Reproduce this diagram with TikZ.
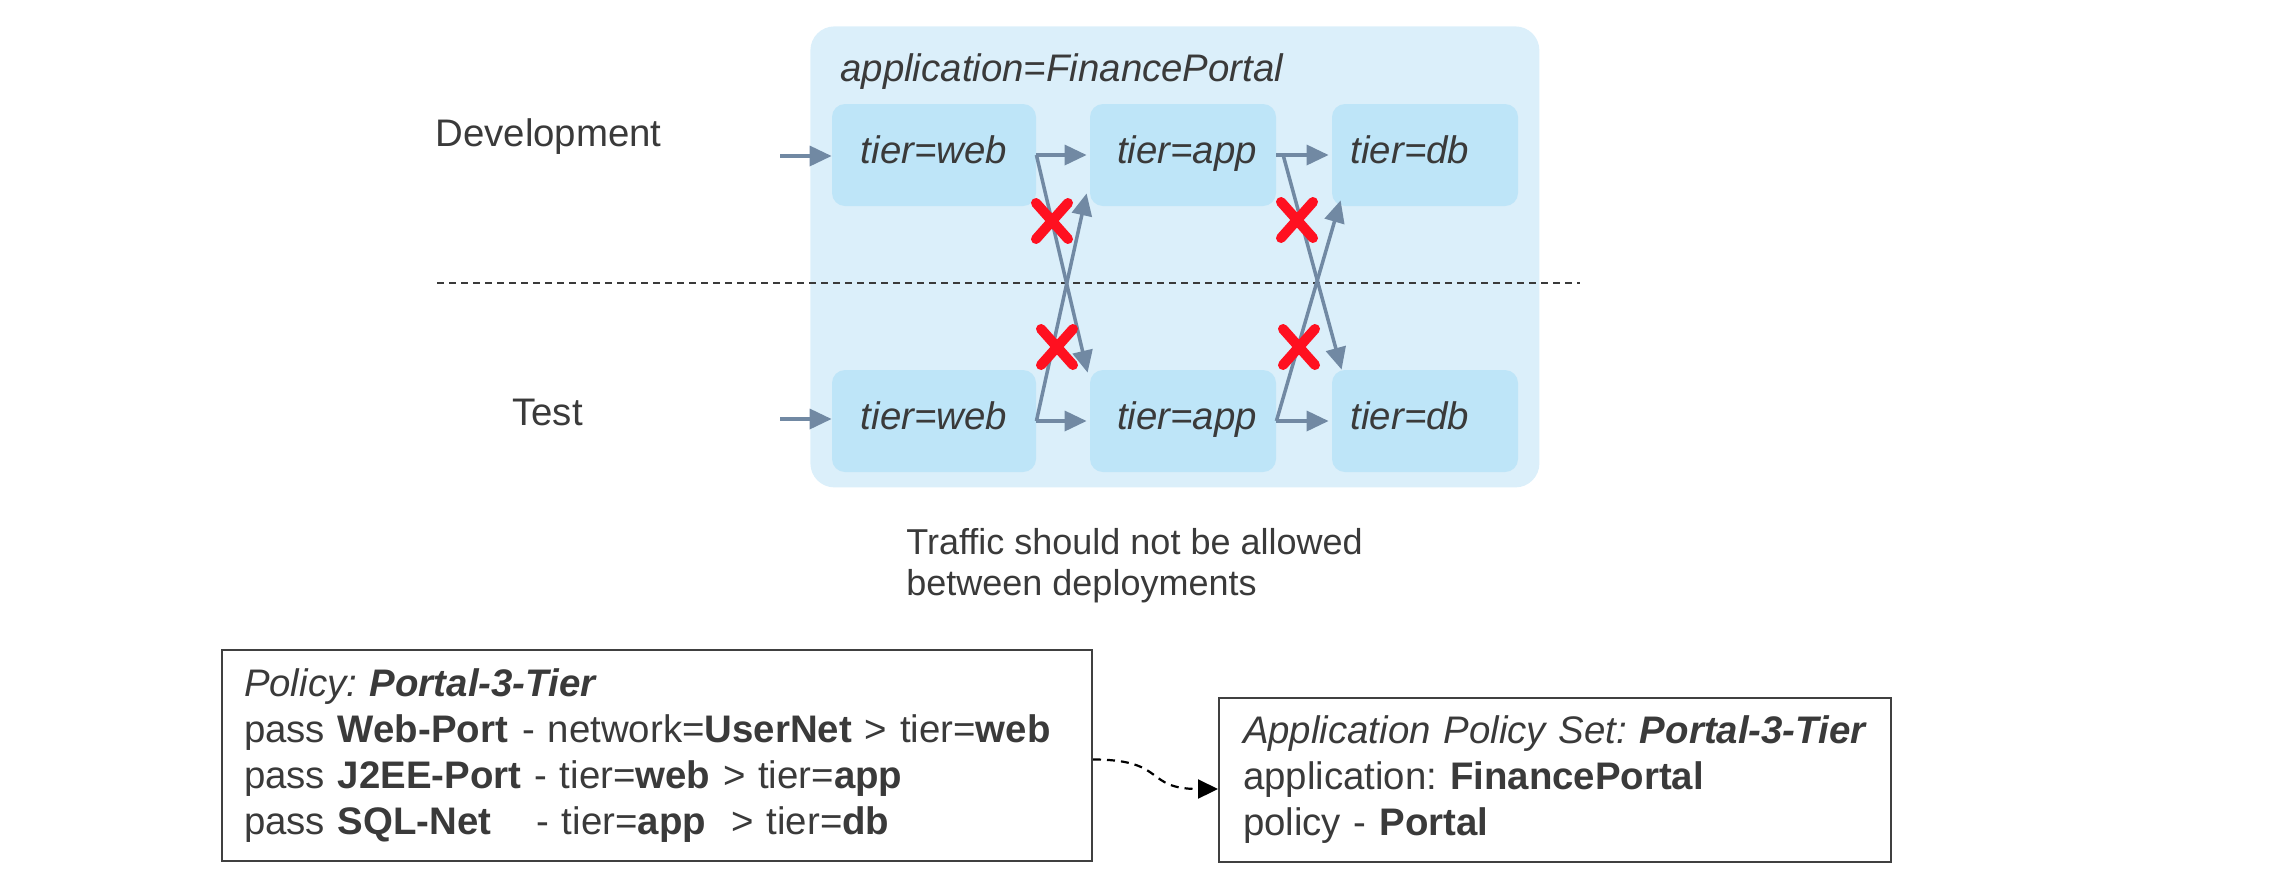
\documentclass[tikz,border=0pt]{standalone}
\usepackage{fontspec}
\setmainfont{Liberation Sans}
\usetikzlibrary{arrows.meta,calc}
\definecolor{txt}{RGB}{58,58,58}
\definecolor{outerbg}{RGB}{219,239,250}
\definecolor{innerbg}{RGB}{190,229,248}
\definecolor{arr}{RGB}{113,137,163}
\definecolor{xred}{RGB}{255,16,32}
\definecolor{frame}{RGB}{64,64,64}
\frenchspacing
\begin{document}
\begin{tikzpicture}[x=0.5pt,y=-0.5pt,
  every node/.style={text=txt, font=\fontsize{19.2}{23}\selectfont},
  container/.style={fill=outerbg, rounded corners=12pt, inner sep=0pt, anchor=north west,
    minimum width=364.5pt, minimum height=230.5pt},
  tbox/.style={fill=innerbg, rounded corners=6.5pt, minimum width=102pt, minimum height=51pt,
    inner sep=0pt, text height=13pt, text depth=5pt, font=\fontsize{19.2}{23}\selectfont\itshape},
  narrow/.style={minimum width=93pt},
  flow/.style={draw=arr, line width=1.75pt, -{Triangle[length=11pt,width=10pt]}},
  xstroke/.style={draw=xred, line width=5pt, line cap=round},
  divider/.style={draw=txt, line width=1pt, dash pattern=on 3.5pt off 2.5pt},
  infobox/.style={draw=frame, line width=1pt, align=left, anchor=north west,
    inner ysep=0pt},
  link/.style={draw=black, line width=1.1pt, dash pattern=on 4pt off 3pt,
    -{Triangle[length=10pt,width=9.5pt]}},
  redx/.pic={\draw[xstroke] (-16,-18) -- (16,18) (-16,18) -- (16,-18);}
]
\useasboundingbox (0,0) rectangle (2272,890);

% container
\node[container] (appbox) at (810,26) {};
\node[anchor=base west, inner sep=0pt, font=\fontsize{19.2}{23}\selectfont\itshape] (apptitle) at (840,81) {application=FinancePortal};

% divider
\coordinate (dl) at (437,283);
\coordinate (dr) at (1580,283);
\draw[divider] (dl) -- (dr);

% labels
\node[anchor=base west, inner sep=0pt] (dev) at (435,146) {Development};
\node[anchor=base west, inner sep=0pt] (test) at (512,425) {Test};

% tier boxes
\node[tbox] (dweb) at (934,155) {tier=web};
\node[tbox, narrow] (dapp) at (1183,155) {tier=app\hspace*{-4pt}};
\node[tbox, narrow] (ddb) at (1425,155) {tier=db\hspace*{15pt}};
\node[tbox] (tweb) at (934,421) {tier=web};
\node[tbox, narrow] (tapp) at (1183,421) {tier=app\hspace*{-4pt}};
\node[tbox, narrow] (tdb) at (1425,421) {tier=db\hspace*{15pt}};

% inputs
\coordinate (din) at (780,156);
\coordinate (tin) at (780,419);
\draw[flow] (din) -- (din -| dweb.west);
\draw[flow] (tin) -- (tin -| tweb.west);

% allowed flows
\draw[flow, shorten >=1.5pt] (dweb.east) -- (dapp.west);
\draw[flow, shorten >=1.5pt] (dapp.east) -- (ddb.west);
\draw[flow, shorten >=1.5pt] (tweb.east) -- (tapp.west);
\draw[flow, shorten >=1.5pt] (tapp.east) -- (tdb.west);

% cross-deployment flows
\draw[flow] (dweb.east) -- ($(tapp.north west)+(-2,3)$);
\draw[flow] (tweb.east) -- ($(dapp.south west)+(-3,-13)$);
\draw[flow] ($(dapp.east)+(7,1)$) -- ($(tdb.north west)+(10,0)$);
\draw[flow] (tapp.east) -- ($(ddb.south west)+(9,-6)$);

% red crosses
\pic at (1052,221) {redx};
\pic at (1057,347) {redx};
\pic at (1297,220) {redx};
\pic at (1299,347) {redx};

% note
\node[anchor=north west, align=left, inner sep=0pt, font=\fontsize{18}{20.3}\selectfont] (note) at (906,528)
  {Traffic should not be allowed\\between deployments};

% policy box
\node[infobox, inner xsep=11pt, text width=413pt, minimum height=105.5pt] (policy) at (221,649)
  {\mbox{\textit{Policy: \textbf{Portal-3-Tier}}}\\
   \mbox{pass \textbf{Web-Port}\hspace{7.2pt}- network=\textbf{UserNet} > tier=\textbf{web}}\\
   \mbox{pass \textbf{J2EE-Port} - tier=\textbf{web} > tier=\textbf{app}}\\
   \mbox{pass \textbf{SQL-Net}\hspace{16pt} - tier=\textbf{app}\ \ > tier=\textbf{db}}};

% application policy set box
\node[infobox, inner xsep=12pt, text width=312pt, minimum height=82pt] (aps) at (1218,697)
  {\mbox{\textit{Application Policy Set: \textbf{Portal-3-Tier}}}\\
   \mbox{application: \textbf{FinancePortal}}\\
   \mbox{policy - \textbf{Portal}}};

% connector
\draw[link] ($(policy.east)+(0,4)$) .. controls +(75,0) and +(-75,0) .. ($(aps.west)+(0,9)$);
\end{tikzpicture}
\end{document}
